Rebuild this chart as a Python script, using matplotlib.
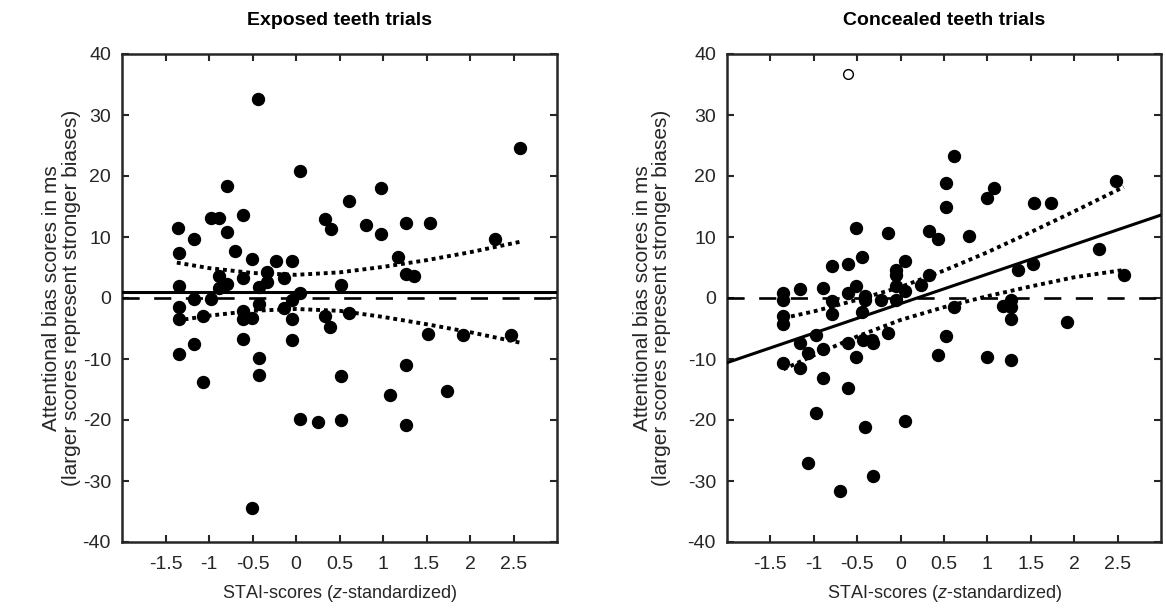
import matplotlib
matplotlib.use("Agg")
import matplotlib.pyplot as plt

plt.rcParams['font.family'] = ['Liberation Sans', 'DejaVu Sans']
plt.rcParams['mathtext.fontset'] = 'custom'
plt.rcParams['mathtext.it'] = 'Liberation Sans:italic'
plt.rcParams['mathtext.rm'] = 'Liberation Sans'
plt.rcParams['axes.unicode_minus'] = False

# Exposed teeth trials: STAI z-scores vs attentional bias (ms)
exp_x = [-1.36, -1.17, -0.44, 0.05, -0.79, -0.98, -0.88, -0.61, -0.79, -1.35,
         -0.70, -0.51, -0.23, -0.05, 0.33, 0.40, -0.89, -0.61, -0.33, -0.33,
         -0.14, -0.79, -1.35, -0.89, -0.42, 0.05, 2.57, 0.98, 0.61, 0.80,
         0.98, 1.26, 1.54, 2.29, 1.17, 1.26, 1.36, 0.52, -1.35, -1.17,
         -0.98, -1.35, -1.07, -0.61, -0.61, -0.51, -0.43, -0.14, -0.05, -0.05,
         0.33, 0.39, -0.61, -0.05, -1.35, -1.17, -1.07, -0.42, -0.42, 0.05,
         0.25, -0.51, 0.61, 1.52, 1.92, 2.47, 0.52, 1.26, 1.08, 1.73,
         0.52, 1.26]
exp_y = [11.4, 9.7, 32.6, 20.8, 18.4, 13.1, 13.1, 13.6, 10.8, 7.3,
         7.7, 6.4, 6.0, 6.0, 13.0, 11.3, 3.6, 3.3, 4.2, 2.7,
         3.3, 2.3, 1.9, 1.7, 1.8, 0.9, 24.6, 18.1, 15.9, 11.9,
         10.5, 12.3, 12.3, 9.6, 6.8, 4.0, 3.6, 2.1, -1.4, -0.2,
         -0.2, -3.4, -3.0, -2.1, -3.5, -3.2, -1.0, -1.6, -0.3, -3.4,
         -3.0, -4.7, -6.7, -6.9, -9.1, -7.5, -13.7, -9.8, -12.6, -19.9,
         -20.3, -34.4, -2.4, -5.9, -6.1, -6.0, -12.8, -11.0, -15.9, -15.2,
         -20.0, -20.8]
exp_fit_x = [-2, 3]
exp_fit_y = [1.0, 1.0]
exp_ci_x = [-1.37, -1.0, -0.5, 0.0, 0.5, 1.0, 1.5, 2.0, 2.57]
exp_ci_hi = [5.8, 4.9, 4.1, 3.8, 4.2, 5.1, 6.2, 7.5, 9.2]
exp_ci_lo = [-3.7, -2.9, -2.1, -1.8, -2.1, -3.1, -4.3, -5.6, -7.3]

# Concealed teeth trials
con_x = [-0.51, -0.14, -0.44, -0.61, -0.79, 0.05, -0.05, -0.05, -1.35, -1.16,
         -0.89, -0.51, -0.05, 0.05, 0.61, 0.52, 0.52, 1.08, 0.99, 1.54,
         1.73, 2.48, 0.33, 0.43, 0.79, 2.29, 0.33, 0.23, 1.35, 1.52,
         2.57, 1.92, -1.35, -0.79, -0.79, -0.61, -0.41, -0.41, -0.44, -0.23,
         -0.05, -1.35, -1.35, -1.16, -0.98, -1.07, -0.89, -0.61, -0.43, -0.33,
         -0.32, -0.14, -0.51, -1.35, -1.16, -0.89, -0.61, -0.98, -0.41, 0.05,
         -1.07, -0.32, -0.70, 0.61, 1.18, 1.27, 1.27, 1.27, 0.52, 0.43,
         0.99, 1.27]
con_y = [11.4, 10.7, 6.7, 5.6, 5.3, 6.1, 4.6, 3.8, 0.9, 1.5,
         1.7, 1.9, 1.9, 1.2, 23.2, 18.9, 15.0, 18.0, 16.4, 15.5,
         15.5, 19.2, 11.0, 9.6, 10.1, 8.0, 3.8, 2.2, 4.6, 5.6,
         3.8, -3.9, -0.3, -0.5, -2.6, 0.8, 0.3, -0.4, -2.3, -0.4,
         -0.3, -3.0, -4.3, -7.3, -6.1, -9.0, -8.3, -7.4, -6.9, -6.9,
         -7.4, -5.8, -9.7, -10.6, -11.4, -13.1, -14.8, -18.8, -21.1, -20.1,
         -27.0, -29.2, -31.6, -1.4, -1.3, -0.4, -1.5, -3.5, -6.2, -9.3,
         -9.7, -10.2]
con_out_x = [-0.61]
con_out_y = [36.7]
con_fit_x = [-2, 3]
con_fit_y = [-10.6, 13.6]
con_ci_x = [-1.35, -1.0, -0.5, 0.0, 0.5, 1.0, 1.5, 2.0, 2.57]
con_ci_hi = [-3.3, -2.2, -0.3, 1.8, 4.5, 7.5, 10.8, 14.2, 18.2]
con_ci_lo = [-11.7, -9.4, -6.3, -3.6, -1.5, 0.3, 1.9, 3.4, 4.6]

titles = ['Exposed teeth trials', 'Concealed teeth trials']
xticks = [-1.5, -1, -0.5, 0, 0.5, 1, 1.5, 2, 2.5]
xticklabels = ['-1.5', '-1', '-0.5', '0', '0.5', '1', '1.5', '2', '2.5']
yticks = [-40, -30, -20, -10, 0, 10, 20, 30, 40]

fig = plt.figure(figsize=(11.66, 6.09), dpi=100)
W, H = 1166, 609
ax1 = fig.add_axes([122 / W, 67 / H, 435 / W, 488 / H])
ax2 = fig.add_axes([727 / W, 67 / H, 434 / W, 488 / H])

panels = [
    (ax1, exp_x, exp_y, exp_fit_x, exp_fit_y, exp_ci_x, exp_ci_hi, exp_ci_lo, -0.095),
    (ax2, con_x, con_y, con_fit_x, con_fit_y, con_ci_x, con_ci_hi, con_ci_lo, -0.128),
]

for i, (ax, x, y, fx, fy, cx, chi, clo, ylab_x) in enumerate(panels):
    ax.plot(x, y, 'o', color='black', ms=8.6, mec='black', zorder=2)
    ax.axhline(0, color='black', lw=1.9, dashes=(6.5, 5.5), zorder=3)
    ax.plot(fx, fy, color='black', lw=2.2, zorder=4)
    ax.plot(cx, chi, color='black', lw=2.8, linestyle=(0, (1, 1)), zorder=4)
    ax.plot(cx, clo, color='black', lw=2.8, linestyle=(0, (1, 1)), zorder=4)

    ax.set_xlim(-2, 3)
    ax.set_ylim(-40, 40)
    ax.set_xticks(xticks)
    ax.set_xticklabels(xticklabels)
    ax.set_yticks(yticks)
    ax.tick_params(direction='in', length=5, width=1.5, colors='#262626',
                   labelcolor='#262626', labelsize=14, top=True, right=True)
    ax.tick_params(axis='x', pad=10)
    ax.tick_params(axis='y', pad=8)
    for sp in ax.spines.values():
        sp.set_linewidth(1.8)
        sp.set_color('#262626')
    ax.set_title(titles[i], fontsize=14, fontweight='bold', pad=21)
    ax.set_xlabel('STAI-scores ($\\it{z}$-standardized)', fontsize=13, color='#262626')
    ax.set_ylabel('Attentional bias scores in ms\n(larger scores represent stronger biases)',
                  fontsize=15, color='#262626', linespacing=1.05)
    ax.yaxis.set_label_coords(ylab_x, 0.5)
    ax.xaxis.set_label_coords(0.5, -0.085)

ax2.plot(con_out_x, con_out_y, 'o', ms=7, mfc='white', mec='black', mew=1.0, zorder=5)

fig.savefig('out.png', dpi=100)
